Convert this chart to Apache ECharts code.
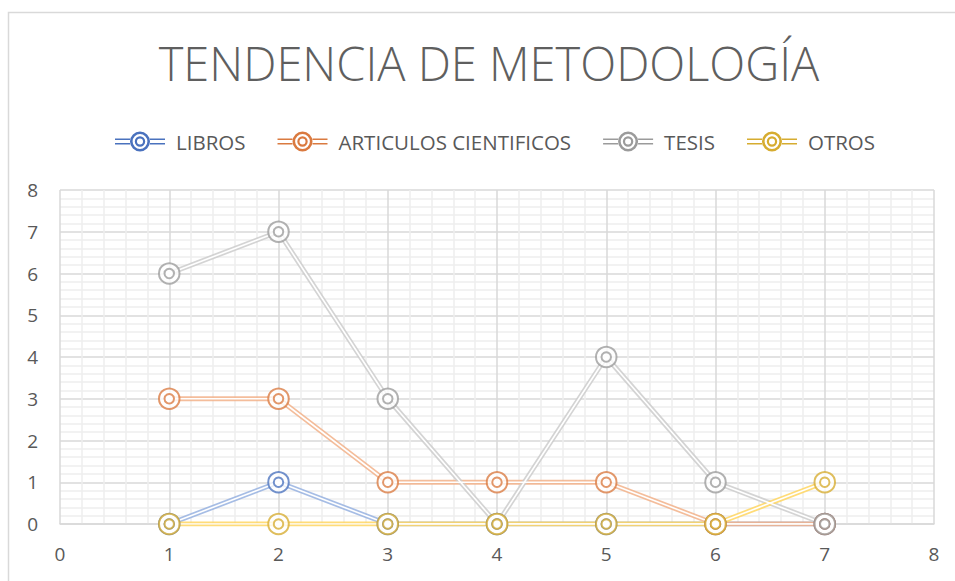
<!DOCTYPE html>
<html>
<head>
<meta charset="utf-8">
<script src="https://cdn.jsdelivr.net/npm/echarts@6/dist/echarts.min.js"></script>
<style>
  html, body { margin: 0; padding: 0; background: #fff; }
  #main { width: 955px; height: 581px; }
</style>
</head>
<body>
<div id="main"></div>
<script>
// datos
var xValues = [1, 2, 3, 4, 5, 6, 7];
var libros = [0, 1, 0, 0, 0, 0, 0];
var articulos = [3, 3, 1, 1, 1, 0, 0];
var tesis = [6, 7, 3, 0, 4, 1, 0];
var otros = [0, 0, 0, 0, 0, 0, 1];
var seriesNames = ['LIBROS', 'ARTICULOS CIENTIFICOS', 'TESIS', 'OTROS'];
var markerColors = ['#4A72BE', '#DA7A40', '#9B9B9B', '#D6AC30'];
var lineColors = ['#97B1E0', '#F2B28A', '#CCCCCC', '#FFD660'];

var allValues = [libros, articulos, tesis, otros];
var font = 'Open Sans';

// icono de leyenda: doble linea + doble anillo
var legendIcon = 'path://M-25,-2.9 L-10,-2.9 L-10,-1.6 L-25,-1.6 Z M-25,1.6 L-10,1.6 L-10,2.9 L-25,2.9 Z' +
  'M10,-2.9 L25,-2.9 L25,-1.6 L10,-1.6 Z M10,1.6 L25,1.6 L25,2.9 L10,2.9 Z' +
  'M0,-10 A10,10 0 1,1 0,10 A10,10 0 1,1 0,-10 Z M0,-7.4 A7.4,7.4 0 1,0 0,7.4 A7.4,7.4 0 1,0 0,-7.4 Z' +
  'M0,-5.2 A5.2,5.2 0 1,1 0,5.2 A5.2,5.2 0 1,1 0,-5.2 Z M0,-3 A3,3 0 1,0 0,3 A3,3 0 1,0 0,-3 Z';

function pairs(vals) {
  return vals.map(function (v, i) { return [xValues[i], v]; });
}

var series = [];
allValues.forEach(function (vals, i) {
  // linea de color (lleva la leyenda)
  series.push({
    name: seriesNames[i], type: 'line', data: pairs(vals), symbol: 'none', z: 2,
    itemStyle: { color: markerColors[i] },
    lineStyle: { color: lineColors[i], width: 5, opacity: 0.85 }
  });
});
allValues.forEach(function (vals, i) {
  // hueco blanco de la doble linea
  series.push({
    name: seriesNames[i] + '_w', type: 'line', data: pairs(vals), symbol: 'none', z: 3,
    lineStyle: { color: '#ffffff', width: 1.6 }, silent: true
  });
});
allValues.forEach(function (vals, i) {
  series.push({
    name: seriesNames[i] + '_o', type: 'line', data: pairs(vals), z: 4,
    symbol: 'emptyCircle', symbolSize: 20.5, showSymbol: true,
    lineStyle: { width: 0, opacity: 0 },
    itemStyle: { color: markerColors[i], borderWidth: 3, opacity: 0.78 },
    silent: true
  });
  series.push({
    name: seriesNames[i] + '_i', type: 'line', data: pairs(vals), z: 5,
    symbol: 'emptyCircle', symbolSize: 9.5, showSymbol: true,
    lineStyle: { width: 0, opacity: 0 },
    itemStyle: { color: markerColors[i], borderWidth: 2.5, opacity: 0.78 },
    silent: true
  });
});

var chart = echarts.init(document.getElementById('main'), null, { renderer: 'svg' });
chart.setOption({
  animation: false,
  backgroundColor: '#fff',
  graphic: [{
    type: 'rect', left: 6, top: 10, silent: true,
    shape: { width: 1000, height: 600 },
    style: { fill: 'none', stroke: '#d9d9d9', lineWidth: 1.5 }
  }],
  title: {
    text: 'TENDENCIA DE METODOLOGÍA',
    left: 484, top: 34, textAlign: 'center',
    textStyle: { fontFamily: font, fontWeight: 300, fontSize: 47, color: '#5f5f5f' }
  },
  legend: {
    top: 126, left: 110, itemWidth: 50, itemHeight: 20, itemGap: 32,
    data: seriesNames.map(function (n) { return { name: n, icon: legendIcon }; }),
    textStyle: { fontFamily: font, fontSize: 20.5, color: '#595959', padding: [0, 0, 0, 6] }
  },
  grid: { left: 60, right: 21, top: 190, bottom: 57 },
  xAxis: {
    type: 'value', min: 0, max: 8, interval: 1,
    axisLine: { show: true, lineStyle: { color: '#d9d9d9', width: 1.5 } },
    axisTick: { show: false },
    axisLabel: { fontFamily: font, fontSize: 19, color: '#595959', margin: 20 },
    splitLine: { show: true, lineStyle: { color: '#d9d9d9', width: 1.5 } },
    minorTick: { show: false, splitNumber: 5 },
    minorSplitLine: { show: true, lineStyle: { color: '#eeeeee', width: 1.5 } }
  },
  yAxis: {
    type: 'value', min: 0, max: 8, interval: 1,
    axisLine: { show: false },
    axisTick: { show: false },
    axisLabel: { fontFamily: font, fontSize: 19, color: '#595959', margin: 22 },
    splitLine: { show: true, lineStyle: { color: '#d9d9d9', width: 1.5 } },
    minorTick: { show: false, splitNumber: 5 },
    minorSplitLine: { show: true, lineStyle: { color: '#eeeeee', width: 1.5 } }
  },
  series: series
});
</script>
</body>
</html>
